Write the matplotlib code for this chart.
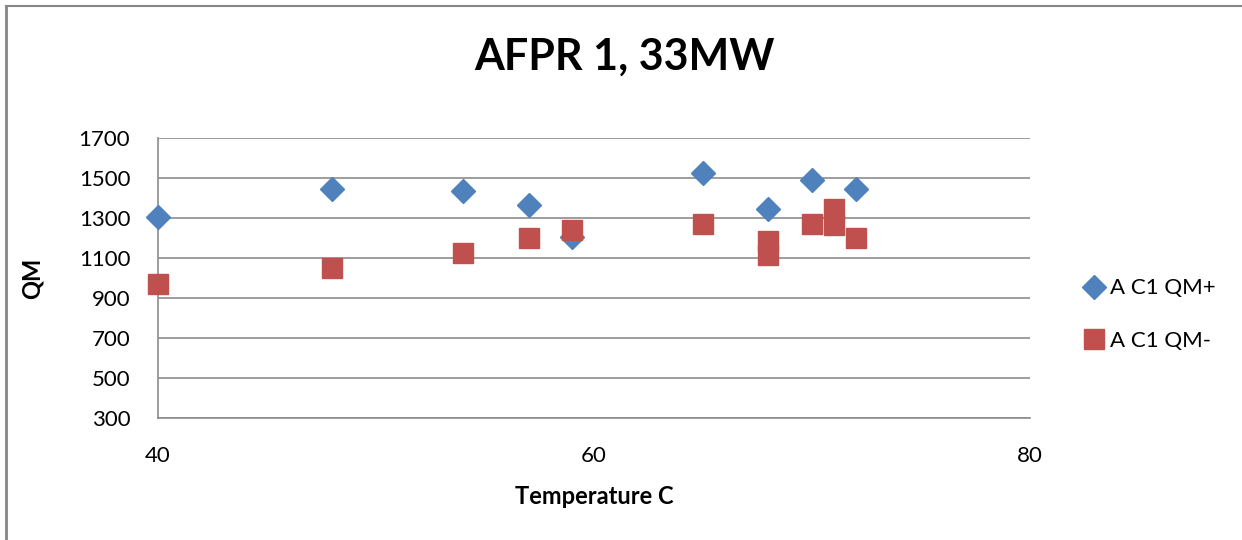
import matplotlib.pyplot as plt
from matplotlib.lines import Line2D

plt.rcParams['font.family'] = ['Lato', 'DejaVu Sans']

# A C1 QM+ series
temp_plus = [40, 48, 54, 57, 59, 65, 68, 70, 72]
qm_plus = [1305, 1445, 1435, 1365, 1205, 1525, 1345, 1490, 1445]

# A C1 QM- series
temp_minus = [40, 48, 54, 57, 59, 65, 68, 68, 70, 71, 71, 72]
qm_minus = [970, 1050, 1125, 1200, 1240, 1270, 1185, 1115, 1270, 1345, 1265, 1200]

yticks = [300, 500, 700, 900, 1100, 1300, 1500, 1700]
xticks = [40, 60, 80]

fig = plt.figure(figsize=(12.42, 5.4), dpi=100)
ax = fig.add_axes([0.1272, 0.2259, 0.7021, 0.5185])

# outer chart frame (only top and left visible)
fig.add_artist(Line2D([0.0048, 1.0], [0.989, 0.989], color='#868686', lw=1.5))
fig.add_artist(Line2D([0.0048, 0.0048], [0.0, 0.989], color='#868686', lw=2))

ax.plot(temp_plus, qm_plus, 'D', color='#4F81BD', ms=12, mec='#4F81BD',
        label='A C1 QM+', zorder=3, clip_on=False)
ax.plot(temp_minus, qm_minus, 's', color='#C0504D', ms=14, mec='#C0504D',
        label='A C1 QM-', zorder=3, clip_on=False)

ax.set_xlim(40, 80)
ax.set_ylim(300, 1700)
ax.set_xticks(xticks)
ax.set_yticks(yticks)
ax.tick_params(length=0, labelsize=16)
ax.tick_params(axis='y', pad=20)
ax.tick_params(axis='x', pad=20)
ax.grid(axis='y', color='#8c8c8c', lw=1.2)
ax.set_axisbelow(True)
for s in ['top', 'right']:
    ax.spines[s].set_visible(False)
for s in ['left', 'bottom']:
    ax.spines[s].set_color('#8c8c8c')
    ax.spines[s].set_linewidth(1.2)

ax.set_xlabel('Temperature C', fontsize=17, fontweight='bold', labelpad=14)
ax.set_ylabel('QM', fontsize=17, fontweight='bold', labelpad=25)
fig.text(0.5025, 0.895, 'AFPR 1, 33MW', ha='center', va='center',
         fontsize=31, fontweight='bold')

ax.legend(loc='center left', bbox_to_anchor=(1.033, 0.37), frameon=False,
          fontsize=16, handletextpad=0.0, labelspacing=1.45, handlelength=1.4)

fig.savefig('out.png', dpi=100)
